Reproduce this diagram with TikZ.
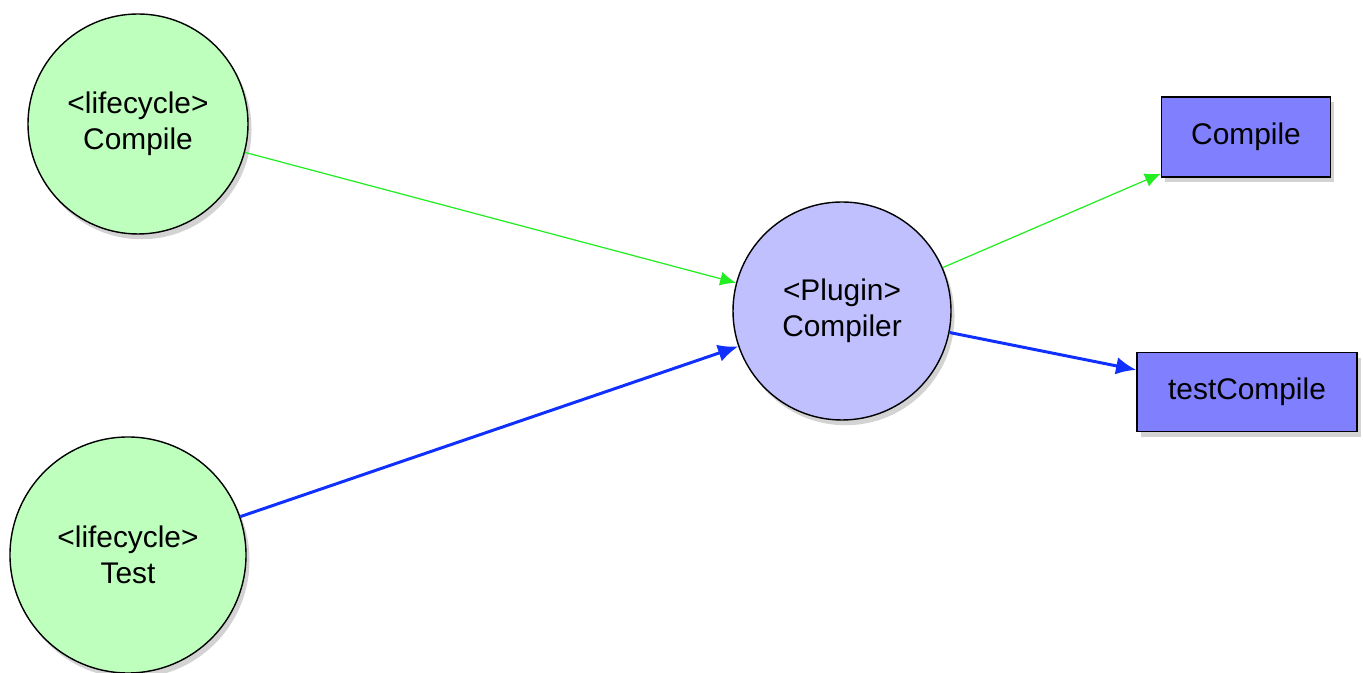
\documentclass[tikz,border=0pt]{standalone}
\usepackage{fontspec}
\setmainfont{Liberation Sans}
\usetikzlibrary{arrows.meta,shadows}

\definecolor{lifegreen}{RGB}{190,255,190}
\definecolor{pluginblue}{RGB}{192,192,255}
\definecolor{goalblue}{RGB}{128,128,255}
\definecolor{greenline}{RGB}{34,238,34}
\definecolor{blueline}{RGB}{16,48,255}

\tikzset{
    shade/.style={drop shadow={shadow xshift=2pt, shadow yshift=-3pt, opacity=0.35}},
    phase/.style={circle, draw, line width=0.8pt, fill=lifegreen, shade,
        align=center, font=\fontsize{17}{20.5}\selectfont},
    plugin/.style={circle, draw, line width=0.8pt, fill=pluginblue, shade,
        align=center, font=\fontsize{17}{20.5}\selectfont},
    goal/.style={rectangle, draw, line width=0.8pt, fill=goalblue, shade,
        font=\fontsize{17}{20.5}\selectfont},
    compileline/.style={greenline, line width=0.7pt, -{Latex[length=9pt,width=8pt]}},
    testline/.style={blueline, line width=1.7pt, -{Latex[length=11.5pt,width=10pt]}}
}

\begin{document}
\begin{tikzpicture}
    \useasboundingbox (0, 0) rectangle (27.26, 13.46);
    \node[phase, minimum size=4.4cm] (compilephase) at (2.76, 10.98) {<lifecycle>\\Compile};
    \node[phase, minimum size=4.72cm] (testphase) at (2.56, 2.36) {<lifecycle>\\Test};
    \node[plugin, minimum size=4.36cm] (compiler) at (16.84, 7.24) {<Plugin>\\Compiler};
    \node[goal, minimum width=3.38cm, minimum height=1.6cm] (compilegoal) at (24.92, 10.72) {Compile};
    \node[goal, minimum width=4.4cm, minimum height=1.58cm] (testgoal) at (24.94, 5.62) {testCompile};
    \draw[compileline] (compilephase) -- (compiler);
    \draw[testline] (testphase) -- (compiler);
    \draw[compileline] (compiler) -- (compilegoal);
    \draw[testline] (compiler) -- (testgoal);
\end{tikzpicture}
\end{document}
